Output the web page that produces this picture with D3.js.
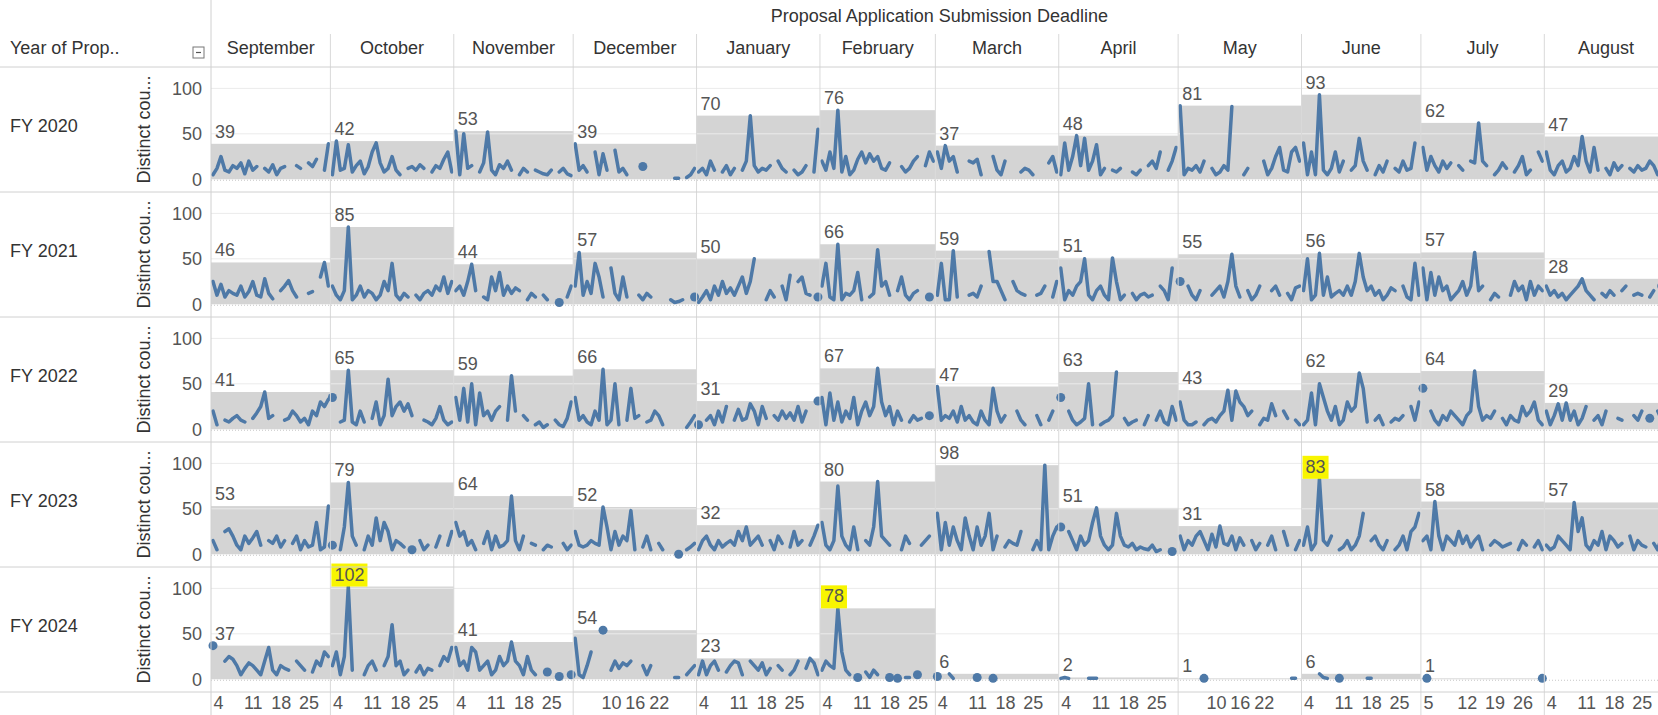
<!DOCTYPE html>
<html>
<head>
<meta charset="utf-8">
<script src="https://cdn.jsdelivr.net/npm/d3@7"></script>
<style>
  body { margin: 0; background: #fff; }
  svg text { font-family: "Liberation Sans", Arial, sans-serif; }
</style>
</head>
<body>
<div id="chart"></div>
<script>
var years = ["FY 2020", "FY 2021", "FY 2022", "FY 2023", "FY 2024"];
var months = ["September", "October", "November", "December", "January", "February",
    "March", "April", "May", "June", "July", "August"];
var monthDays = [30, 31, 30, 31, 31, 29, 31, 30, 31, 30, 31, 31];
var monthTicks = [[4, 11, 18, 25], [4, 11, 18, 25], [4, 11, 18, 25], [10, 16, 22],
    [4, 11, 18, 25], [4, 11, 18, 25], [4, 11, 18, 25], [4, 11, 18, 25],
    [10, 16, 22], [4, 11, 18, 25], [5, 12, 19, 26], [4, 11, 18, 25]];

// max of each month (the grey band and its label)
var max2020 = [39, 42, 53, 39, 70, 76, 37, 48, 81, 93, 62, 47];
var max2021 = [46, 85, 44, 57, 50, 66, 59, 51, 55, 56, 57, 28];
var max2022 = [41, 65, 59, 66, 31, 67, 47, 63, 43, 62, 64, 29];
var max2023 = [53, 79, 64, 52, 32, 80, 98, 51, 31, 83, 58, 57];
var max2024 = [37, 102, 41, 54, 23, 78, 6, 2, 1, 6, 1, null];

// highlighted labels
var highlights = [["FY 2023", "June"], ["FY 2024", "October"], ["FY 2024", "February"]];

// daily distinct counts, day 1..N of each month ("-" = no data)
var daily2020 = [
    "5 12 25 10 8 15 12 18 6 20 10 14 - 12 8 16 5 12 14 - - 15 12 - 18 14 22 - 10 39",
    "5 42 10 12 38 8 15 20 6 14 30 40 18 8 12 25 10 5 - 12 14 10 16 12 - 8 15 12 22 30 8",
    "53 5 50 12 15 - 8 18 52 10 5 16 12 20 10 - 5 12 8 - 10 8 6 5 10 - 8 12 6 4",
    "39 10 15 8 - 30 5 28 10 - 32 8 12 5 - - - 14 - - - - - - - 1 1 - 2 5 12",
    "8 12 5 20 10 - 8 15 5 12 - 10 20 70 15 8 12 10 15 - 20 12 8 - 10 5 8 15 - 8 55",
    "20 10 30 12 76 8 25 5 10 22 30 18 28 20 25 12 10 18 - - 14 8 12 20 25 - 15 30 20",
    "30 12 37 20 25 8 - - 20 18 22 5 - - 25 10 5 20 - - - 8 12 10 5 - - - 18 25 8",
    "5 40 10 25 48 15 45 10 20 38 5 12 - 10 8 12 - - 8 5 10 - 15 20 12 30 - 10 20 35",
    "81 5 12 10 15 8 20 - 12 5 8 15 10 80 - - 5 12 - - - 20 5 12 25 35 10 8 30 35 20",
    "40 5 30 5 93 10 5 12 30 8 20 - 10 15 45 20 10 - 5 15 8 20 - 12 8 20 10 12 40 -",
    "35 10 25 15 8 20 12 18 - 15 10 - 20 18 62 20 15 - 5 10 18 12 - 8 15 25 5 10 - 30 20",
    "30 10 5 15 20 8 12 25 15 47 20 8 35 10 - 12 5 18 10 15 - 12 8 15 10 12 20 15 5 10 8"
];
var daily2021 = [
    "25 10 22 8 15 12 10 20 8 14 25 10 8 28 12 6 - 15 20 26 15 8 - - 12 14 - 30 46 20",
    "20 10 5 15 85 5 10 20 8 15 12 5 10 25 15 45 10 5 12 8 - 10 5 12 15 10 20 15 30 12 25",
    "15 20 10 25 44 15 - 8 5 30 15 35 10 20 12 18 15 - 5 12 8 - 10 5 - - 2 - 8 20",
    "20 57 10 25 12 45 30 8 - 40 12 5 30 8 - - 10 5 12 8 - - - - 5 2 3 5 - - 8",
    "2 8 15 5 20 10 25 12 18 10 20 30 12 25 50 - - 5 15 8 - 20 5 32 - 25 30 12 10 - 8",
    "20 45 8 5 66 5 12 10 15 35 5 - 8 12 60 20 25 10 - 15 30 10 5 12 15 - - 8 -",
    "10 45 5 5 59 8 - - 10 12 8 20 - 58 25 25 15 5 - 25 15 12 10 - - 10 12 20 - 8 25",
    "40 5 15 10 20 25 50 10 5 15 20 10 5 51 25 5 10 - 12 5 10 12 8 10 - 20 15 5 40 -",
    "25 - 20 10 5 15 - - 10 15 20 8 25 55 20 8 - 15 5 10 20 - - 15 20 10 - 12 5 18 20",
    "15 50 5 10 56 10 30 8 12 15 10 20 10 25 56 30 15 20 10 15 5 10 18 15 - 20 8 5 45 10",
    "40 5 35 10 30 15 20 5 10 15 25 10 20 57 15 20 - 5 12 8 - - 10 25 15 20 5 25 10 20 15",
    "20 10 15 8 12 5 10 15 20 28 15 10 5 - 12 8 15 10 - 15 20 - 10 12 10 - 8 15 - 20 -"
];
var daily2022 = [
    "20 5 - 10 8 12 15 10 8 - 12 18 25 41 12 15 - - 10 12 20 15 8 12 5 20 15 30 25 33",
    "35 - 8 10 65 8 5 20 8 - 12 30 5 15 55 15 25 30 20 28 15 - - 10 8 5 12 25 10 5 8",
    "35 10 45 8 50 5 40 15 20 10 20 25 - 10 59 20 - 15 10 - 5 8 2 5 - 10 5 3 12 30",
    "35 10 15 8 5 20 10 66 5 10 50 5 - 10 45 12 15 - 8 10 20 15 5 - - - - - 2 8 15",
    "5 - 10 15 5 20 8 25 - 10 22 10 12 28 20 5 25 12 - 15 10 20 12 18 10 25 8 20 - - 31",
    "35 5 40 10 30 8 20 12 35 5 20 30 15 25 67 30 15 25 5 20 10 - 8 15 10 12 - 15 -",
    "47 10 15 12 20 8 25 10 15 8 5 20 10 5 45 20 8 15 - - 20 10 5 - - 15 5 - 10 20 -",
    "35 - 20 10 5 8 12 50 5 - 5 8 10 15 63 - 12 5 8 10 - 5 15 - 10 20 8 5 25 10",
    "30 10 5 5 8 - 5 10 12 8 15 20 43 10 42 30 25 15 20 - 5 12 10 28 15 - 20 12 - 10 5",
    "5 10 40 5 50 35 20 10 25 5 10 30 20 25 62 45 8 - 10 15 5 - 8 12 10 15 - 25 10 30",
    "45 - 20 10 5 15 10 20 15 10 5 15 20 64 25 10 15 12 20 - 12 5 15 10 8 25 15 20 30 10 5",
    "20 5 15 28 10 29 10 20 5 12 25 - 10 15 5 20 - - 12 10 - - 15 10 20 - 12 - 20 10 -"
];
var daily2023 = [
    "15 5 - 25 28 20 10 5 20 12 18 25 10 - 15 12 20 8 15 - 12 20 5 15 8 10 35 5 8 53",
    "10 - 5 30 79 20 10 - 5 20 10 40 15 35 25 5 15 12 8 - 5 - 15 5 10 - 8 20 - 10 25",
    "35 20 25 10 15 5 - 12 25 5 20 8 10 15 64 15 5 20 - 12 10 - 5 10 8 - - 12 5 10",
    "25 10 8 10 15 12 10 52 30 5 25 10 20 15 48 5 - 8 20 5 - 12 5 - - - 0 - 5 8 12",
    "5 15 20 10 5 15 8 12 15 10 25 15 30 10 15 20 10 - 15 5 20 12 - 8 25 10 15 - 10 20 32",
    "35 10 5 15 75 20 10 5 30 5 - 15 10 30 80 20 15 10 - - 5 20 12 - - 10 15 20 -",
    "45 5 35 10 30 15 5 40 20 5 30 10 20 45 5 20 - 8 15 12 10 25 - - 5 15 5 98 5 20 30",
    "30 - 25 15 5 20 10 15 35 51 20 10 5 10 45 20 10 8 12 5 8 6 5 10 3 5 - - 3 -",
    "20 5 15 10 20 25 15 5 22 8 31 12 10 20 5 18 10 - 15 5 12 - 10 20 5 - 25 10 - 5 15",
    "10 30 5 12 83 15 10 20 - 5 8 15 5 10 20 45 - 15 20 10 5 15 - 5 10 20 5 25 30 45",
    "15 20 5 58 20 5 20 15 10 25 12 20 8 15 20 5 - 10 15 12 8 10 12 - 5 15 10 - 8 15 5",
    "10 5 8 20 15 10 5 57 25 40 10 5 15 10 25 5 20 15 8 12 - 20 5 15 10 8 - 12 5 20 -"
];
var daily2024 = [
    "37 - - 20 25 22 15 5 12 18 15 10 5 20 35 10 5 15 12 10 - 20 15 10 - 8 20 15 30 25",
    "15 30 5 25 102 10 - - 5 15 20 10 - 15 25 60 15 20 5 10 - 8 15 5 12 10 - 15 25 20 35",
    "35 15 20 10 35 30 10 15 20 5 10 25 15 20 41 20 15 5 25 10 5 - - 8 - - 3 - - 5",
    "45 5 2 15 30 - - 54 - 10 20 12 18 15 20 - - 15 5 15 - - - - - 2 2 - 5 10 15",
    "5 20 5 15 20 10 - 8 15 20 18 5 - 20 15 10 18 5 12 - 15 10 - 5 10 20 - 12 23 18 5",
    "10 20 15 12 78 30 10 5 - 2 - 8 2 10 5 - - 2 - 1 - 2 2 - 5 - - - -",
    "3 - - 6 1 - - - - - 2 - - - 1",
    "1 2 1 - - - - 1 1 1",
    "- - - - - - 1 - - - - - - - - - - - - - - - - - - - - - 1 1",
    "- - - - 6 2 1 - - 1 - - - - - - 1 1",
    "- 1 - - - - - - - - - - - - - - - - - - - - - - - - - - - - 1",
    ""
];

var rows = [
    { year: years[0], max: max2020, daily: daily2020 },
    { year: years[1], max: max2021, daily: daily2021 },
    { year: years[2], max: max2022, daily: daily2022 },
    { year: years[3], max: max2023, daily: daily2023 },
    { year: years[4], max: max2024, daily: daily2024 }
];

var width = 1658, height = 715;
var paneLeft = 211, pxPerDay = 3.98;
var headerBottom = 67, rowH = 125;
var lineColor = "#4e79a7", bandColor = "#d4d4d4";
var fontSize = "18px";

function parseDays(s, n) {
    var t = s.trim().split(/\s+/);
    var out = [];
    for (var i = 0; i < n; i++) {
        var v = t[i];
        out.push({ day: i + 1, v: (v === undefined || v === "-" || v === "") ? null : +v });
    }
    return out;
}

var svg = d3.select("#chart").append("svg")
    .attr("width", width)
    .attr("height", height);

var totalDays = d3.sum(monthDays);
var x = d3.scaleLinear()
    .domain([0, totalDays])
    .range([paneLeft, paneLeft + totalDays * pxPerDay]);

var monthStart = [0];
monthDays.forEach(function(d, i) { monthStart.push(monthStart[i] + d); });

// one x scale per month, day d sits in the middle of its slot
var xm = months.map(function(m, i) {
    return d3.scaleLinear()
        .domain([0.5, monthDays[i] + 0.5])
        .range([x(monthStart[i]), x(monthStart[i] + monthDays[i])]);
});

// header
svg.append("text")
    .attr("x", (paneLeft + x(totalDays)) / 2)
    .attr("y", 22)
    .attr("text-anchor", "middle")
    .style("font-size", fontSize)
    .style("fill", "#333")
    .text("Proposal Application Submission Deadline");

svg.append("text")
    .attr("x", 10)
    .attr("y", 54)
    .style("font-size", fontSize)
    .style("fill", "#333")
    .text("Year of Prop..");

var icon = svg.append("g").attr("transform", "translate(193,47)");
icon.append("rect").attr("width", 11).attr("height", 11)
    .attr("fill", "#fff").attr("stroke", "#777").attr("stroke-width", 1);
icon.append("line").attr("x1", 3).attr("x2", 8).attr("y1", 5.5).attr("y2", 5.5)
    .attr("stroke", "#555").attr("stroke-width", 1.2);

svg.selectAll(".month-head")
    .data(months)
    .enter()
    .append("text")
    .attr("class", "month-head")
    .attr("x", function(d, i) { return (xm[i].range()[0] + xm[i].range()[1]) / 2; })
    .attr("y", 54)
    .attr("text-anchor", "middle")
    .style("font-size", fontSize)
    .style("fill", "#333")
    .text(function(d) { return d; });

var line = d3.line()
    .defined(function(d) { return d.v !== null; })
    .x(function(d) { return d.px; })
    .y(function(d) { return d.py; });

rows.forEach(function(row, r) {
    var top = headerBottom + r * rowH;
    var y = d3.scaleLinear().domain([-14, 123.5]).range([top + rowH, top]);
    var g = svg.append("g").attr("class", "row");

    // bands (max of month)
    months.forEach(function(m, i) {
        if (row.max[i] === null) return;
        g.append("rect")
            .attr("x", xm[i].range()[0])
            .attr("y", y(row.max[i]))
            .attr("width", xm[i].range()[1] - xm[i].range()[0])
            .attr("height", y(0) - y(row.max[i]))
            .attr("fill", bandColor);
    });

    // gridlines
    [50, 100].forEach(function(v) {
        g.append("line")
            .attr("x1", paneLeft).attr("x2", width)
            .attr("y1", y(v)).attr("y2", y(v))
            .attr("stroke", "#ebebeb").attr("stroke-width", 1);
    });
    g.append("line")
        .attr("x1", paneLeft).attr("x2", width)
        .attr("y1", y(0) + 1).attr("y2", y(0) + 1)
        .attr("stroke", "#c8c8c8").attr("stroke-width", 1)
        .attr("stroke-dasharray", "1,2");

    // daily lines
    months.forEach(function(m, i) {
        var pts = parseDays(row.daily[i], monthDays[i]);
        pts.forEach(function(p) { p.px = xm[i](p.day); p.py = p.v === null ? 0 : y(p.v); });
        g.append("path")
            .datum(pts)
            .attr("d", line)
            .attr("fill", "none")
            .attr("stroke", lineColor)
            .attr("stroke-width", 3.5)
            .attr("stroke-linejoin", "round")
            .attr("stroke-linecap", "round");
        var lone = pts.filter(function(p, k) {
            return p.v !== null &&
                (k === 0 || pts[k - 1].v === null) &&
                (k === pts.length - 1 || pts[k + 1].v === null);
        });
        g.selectAll(null)
            .data(lone)
            .enter()
            .append("circle")
            .attr("cx", function(p) { return p.px; })
            .attr("cy", function(p) { return p.py; })
            .attr("r", 4.5)
            .attr("fill", lineColor);
    });

    // max labels
    months.forEach(function(m, i) {
        if (row.max[i] === null) return;
        var hl = highlights.some(function(h) { return h[0] === row.year && h[1] === m; });
        var lx = xm[i].range()[0] + 4, ly = y(row.max[i]) - 6;
        var lg = g.append("g");
        var t = lg.append("text")
            .attr("x", lx)
            .attr("y", ly)
            .style("font-size", fontSize)
            .style("fill", "#555")
            .text(row.max[i]);
        if (hl) {
            var bb = t.node().getBBox();
            lg.insert("rect", "text")
                .attr("x", bb.x - 3).attr("y", bb.y - 1)
                .attr("width", bb.width + 6).attr("height", bb.height + 3)
                .attr("fill", "#f8f500");
        }
    });

    // y axis
    var ya = g.append("g")
        .attr("transform", "translate(202,0)")
        .call(d3.axisLeft(y).tickValues([0, 50, 100]).tickSize(0).tickPadding(0));
    ya.select(".domain").remove();
    ya.selectAll("text")
        .style("font-size", fontSize)
        .style("fill", "#555")
        .style("font-family", '"Liberation Sans", Arial, sans-serif');

    g.append("text")
        .attr("transform", "translate(150," + (top + rowH / 2) + ") rotate(-90)")
        .attr("text-anchor", "middle")
        .style("font-size", fontSize)
        .style("fill", "#333")
        .text("Distinct cou...");

    g.append("text")
        .attr("x", 10)
        .attr("y", top + rowH / 2 - 4)
        .attr("dy", "0.35em")
        .style("font-size", fontSize)
        .style("fill", "#333")
        .text(row.year);
});

// bottom axes
var axisY = headerBottom + rows.length * rowH;
months.forEach(function(m, i) {
    var ax = svg.append("g")
        .attr("transform", "translate(0," + axisY + ")")
        .call(d3.axisBottom(xm[i]).tickValues(monthTicks[i]).tickSize(0).tickFormat(d3.format("d")));
    ax.select(".domain").remove();
    ax.selectAll("text")
        .attr("y", 4)
        .style("font-size", fontSize)
        .style("fill", "#555")
        .style("font-family", '"Liberation Sans", Arial, sans-serif');
    ax.selectAll(".tick text")
        .filter(function(d) { return d < 7; })
        .attr("text-anchor", "start")
        .attr("x", function(d) { return xm[i].range()[0] + 2 - xm[i](d); });
});

// separators
svg.selectAll(".col-sep")
    .data(months.slice(1).map(function(m, i) { return xm[i + 1].range()[0]; }))
    .enter()
    .append("line")
    .attr("x1", function(d) { return d; }).attr("x2", function(d) { return d; })
    .attr("y1", 34).attr("y2", height)
    .attr("stroke", "#d9d9d9").attr("stroke-width", 1);

svg.append("line")
    .attr("x1", paneLeft).attr("x2", paneLeft)
    .attr("y1", 0).attr("y2", height)
    .attr("stroke", "#d0d0d0").attr("stroke-width", 1);

svg.selectAll(".row-sep")
    .data(d3.range(rows.length + 1))
    .enter()
    .append("line")
    .attr("x1", 0).attr("x2", width)
    .attr("y1", function(d) { return headerBottom + d * rowH; })
    .attr("y2", function(d) { return headerBottom + d * rowH; })
    .attr("stroke", "#d0d0d0").attr("stroke-width", 1);
</script>
</body>
</html>
